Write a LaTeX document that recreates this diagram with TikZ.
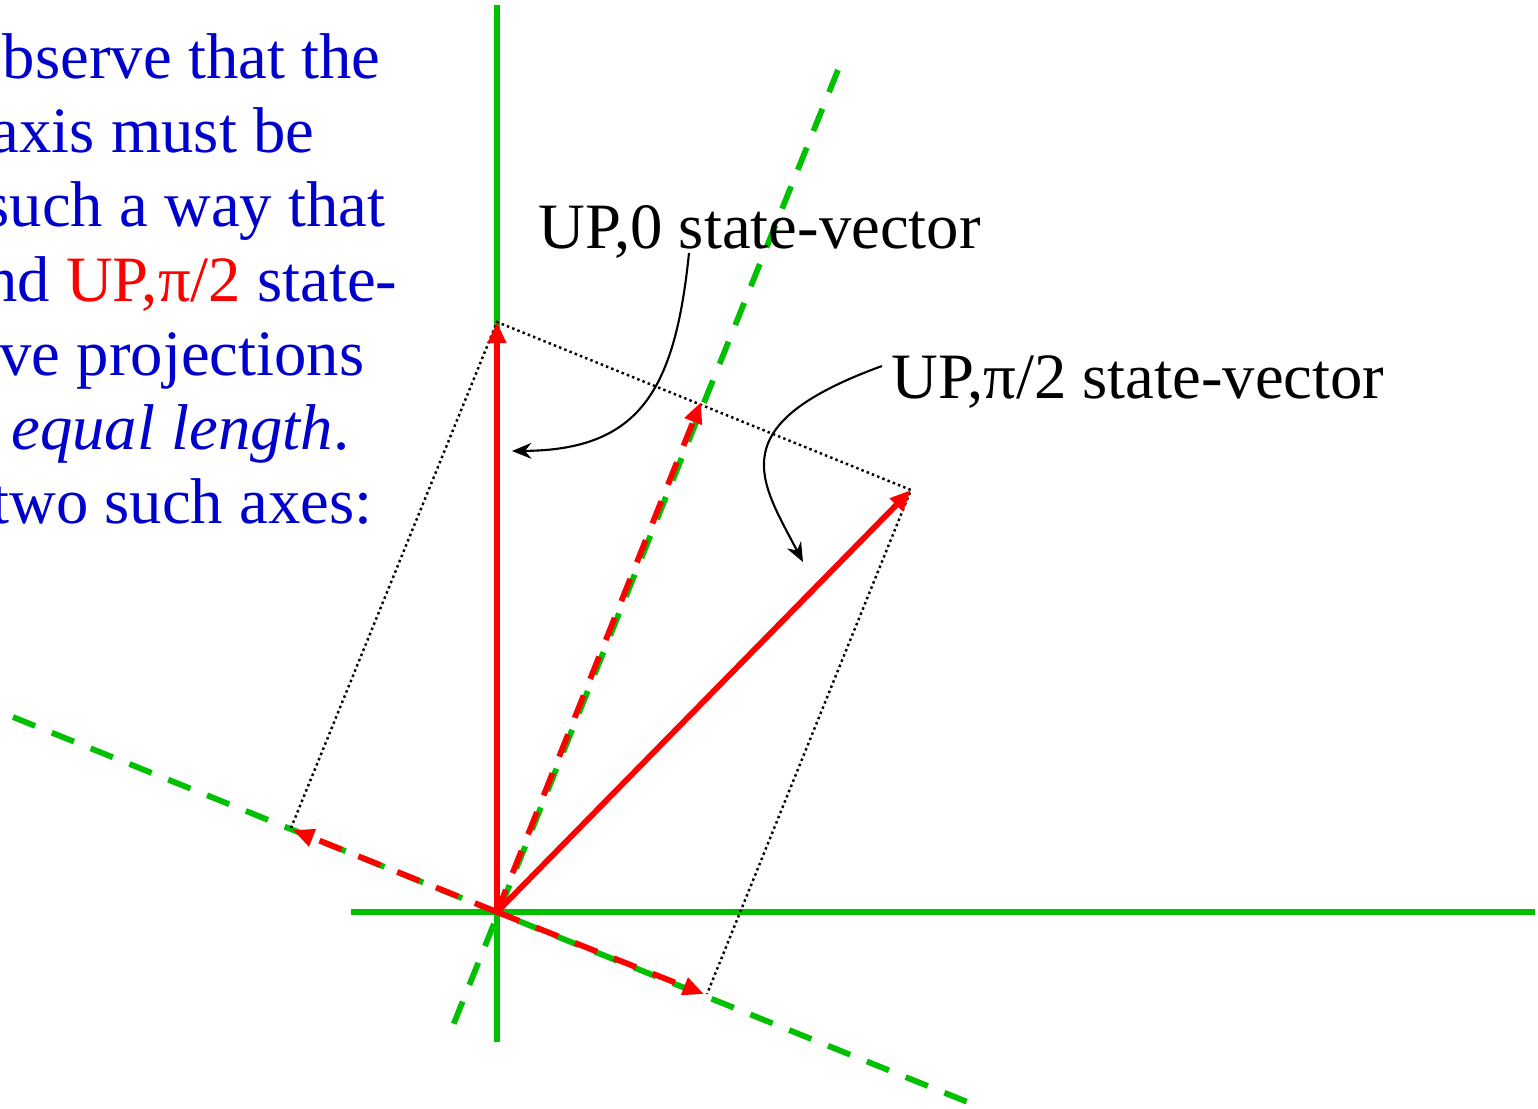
\documentclass[tikz,border=0pt]{standalone}
\usepackage{fontspec}
\setmainfont{Liberation Serif}
\usetikzlibrary{arrows.meta}
\definecolor{axgreen}{RGB}{0,192,0}
\definecolor{vred}{RGB}{255,0,0}
\definecolor{txtblue}{RGB}{0,0,204}
\begin{document}
\begin{tikzpicture}[x=0.01cm,y=-0.01cm,
 axisline/.style={draw=axgreen,line width=1.65pt},
 daxis/.style={axisline,dash pattern=on 6.8pt off 5.1pt},
 vec/.style={draw=vred,line width=1.65pt,-{Triangle[length=6pt,width=5pt]}},
 dvec/.style={vec,dash pattern=on 6.8pt off 5.1pt},
 guide/.style={draw=black,line width=0.7pt,dash pattern=on 0.7pt off 0.9pt},
 pointer/.style={draw=black,line width=0.6pt,-{Stealth[length=5.5pt,width=4.5pt]}},
 lab/.style={inner sep=0pt,anchor=base west,font=\fontsize{18.4}{22}\selectfont},
 bluetext/.style={inner sep=0pt,anchor=base east,text=txtblue,font=\fontsize{18.4}{22}\selectfont}]
\useasboundingbox (0,0) rectangle (1538,1108);
\clip (0,0) rectangle (1538,1108);
% points
\coordinate (O) at (497,912);
\coordinate (vtop) at (497,5);
\coordinate (vbot) at (497,1042);
\coordinate (hleft) at (351,912);
\coordinate (hright) at (1535,912);
\coordinate (a1top) at (838,70);
\coordinate (a1bot) at (452,1028);
\coordinate (a2left) at (13,717);
\coordinate (a2right) at (970,1103);
\coordinate (A) at (497,322);
\coordinate (B) at (911,490);
\coordinate (C) at (707,994);
\coordinate (D) at (291,828);
\coordinate (P1) at (701,402);
\coordinate (P2) at (293,830);
\coordinate (P3) at (704,994);
% green axes
\draw[axisline] (vtop) -- (vbot);
\draw[axisline] (hleft) -- (hright);
\draw[daxis] (a1top) -- (a1bot);
\draw[daxis] (a2left) -- (a2right);
% dotted guides
\draw[guide] (D) -- (A) -- (B) -- (C);
% red vectors
\draw[vec] (O) -- (A);
\draw[vec] (O) -- (B);
\draw[dvec] (O) -- (P1);
\draw[dvec] (O) -- (P2);
\draw[dvec] (O) -- (P3);
% labels
\node[lab] (lab0) at (538,248) {UP,0 state-vector};
\node[lab] (lab1) at (891,398) {UP,π/2 state-vector};
\coordinate (s0) at (689,253);
\coordinate (e0) at (512,451);
\coordinate (s1) at (882,366);
\coordinate (e1) at (803,562);
\draw[pointer] (s0) .. controls (675,390) and (640,450) .. (e0);
\draw[pointer] (s1) .. controls (720,425) and (760,480) .. (e1);
% blue text
\node[bluetext] (t1) at (381,78) {observe that the};
\node[bluetext] (t2) at (315,152) {axis must be};
\node[bluetext] (t3) at (386,226) {such a way that};
\node[bluetext] (t4) at (398,301) {nd \textcolor{vred}{UP,π/2} state-};
\node[bluetext] (t5) at (365,375) {ave projections};
\node[bluetext] (t6) at (350,449) {f \textit{equal length}.};
\node[bluetext] (t7) at (373,523) {two such axes:};
\end{tikzpicture}
\end{document}
